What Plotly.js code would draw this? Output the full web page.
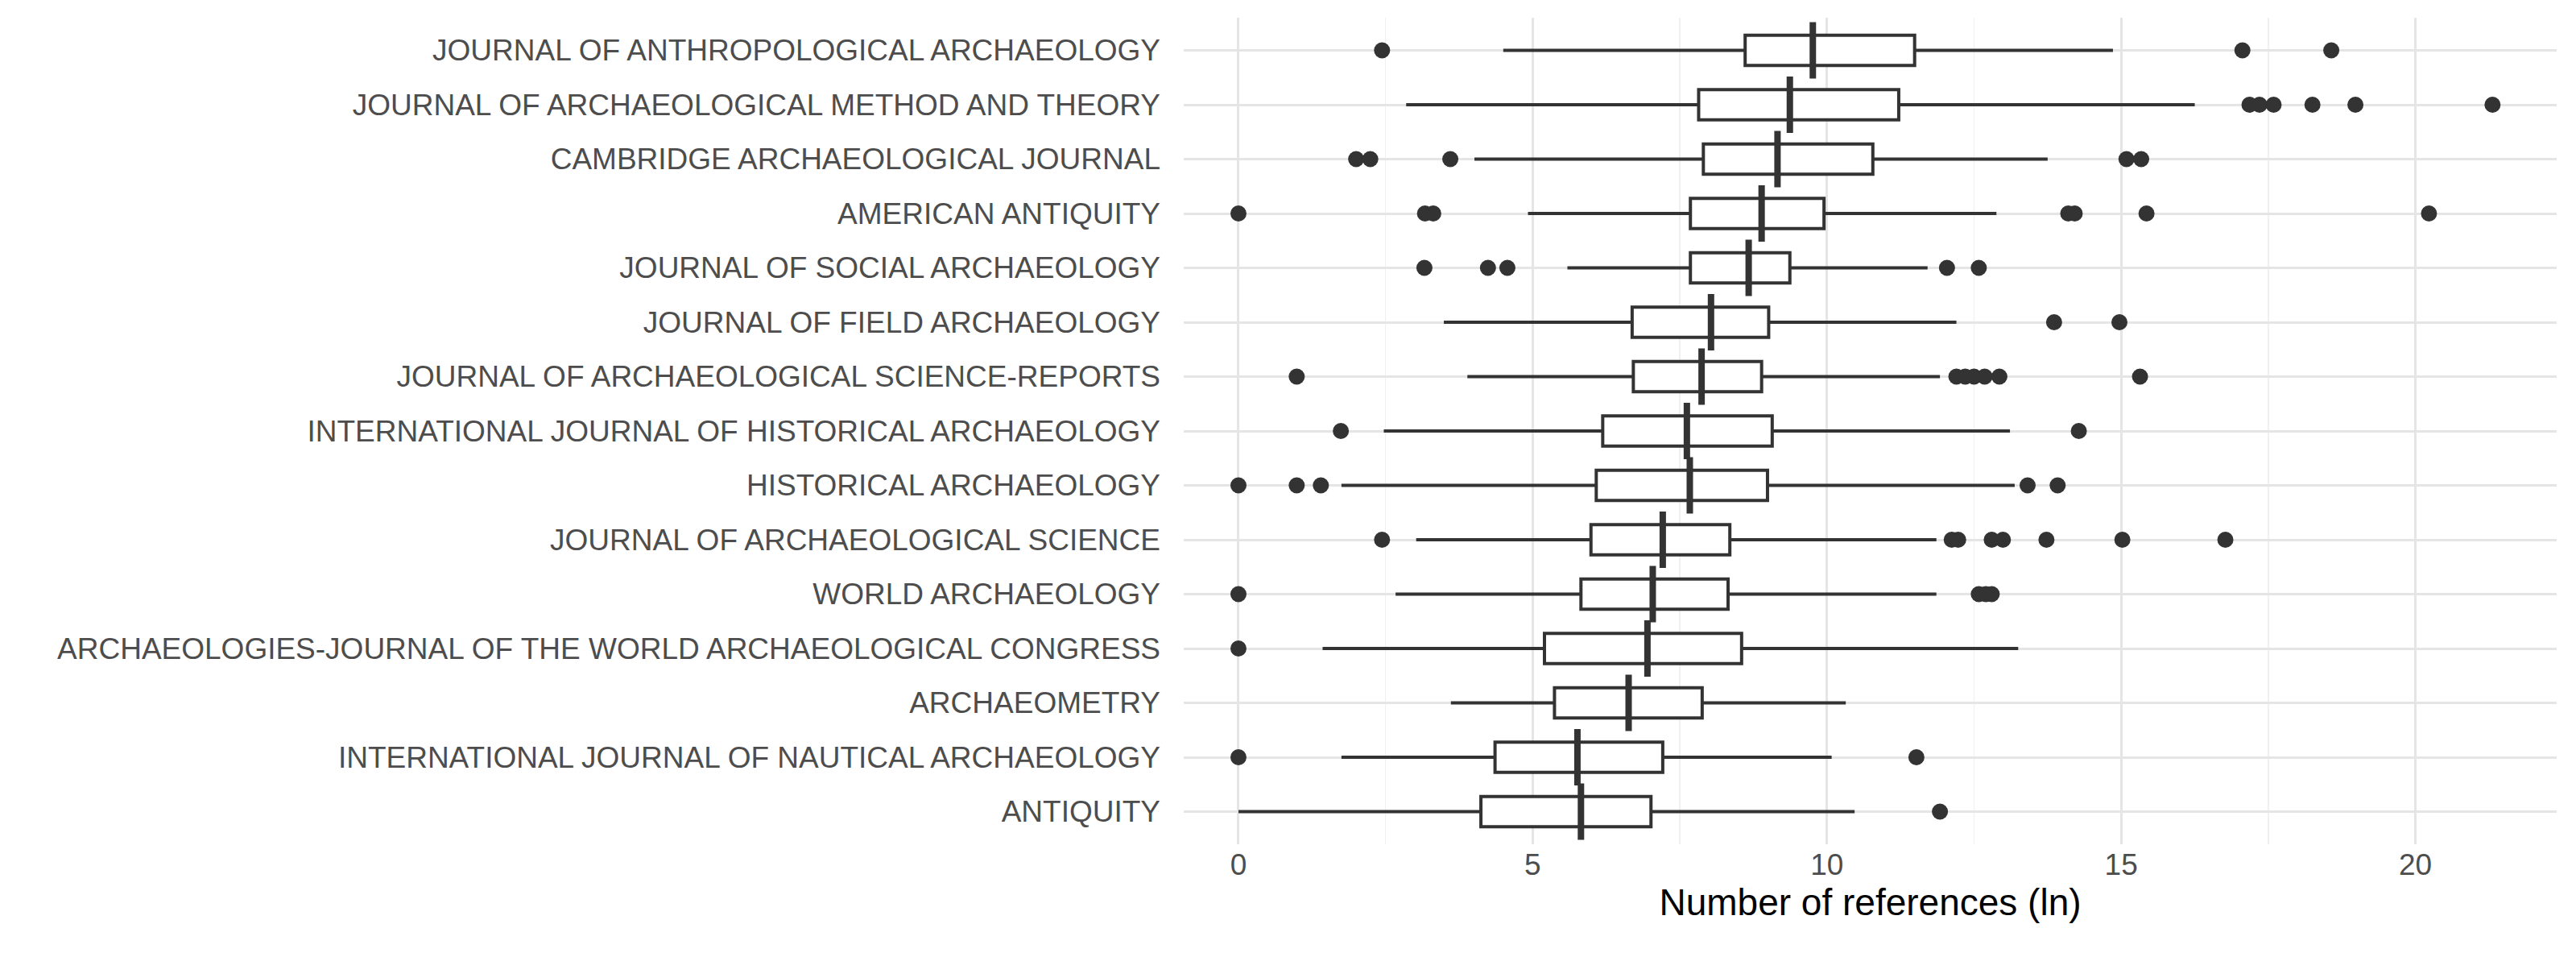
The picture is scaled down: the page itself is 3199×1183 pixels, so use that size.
<!DOCTYPE html>
<html>
<head>
<meta charset="utf-8">
<script src="https://cdn.plot.ly/plotly-3.0.1.min.js"></script>
<style>html,body{margin:0;padding:0;background:#fff}#chart{width:3199px;height:1183px}</style>
</head>
<body>
<div id="chart"></div>
<script>
// top to bottom
const journals = [
  'JOURNAL OF ANTHROPOLOGICAL ARCHAEOLOGY',
  'JOURNAL OF ARCHAEOLOGICAL METHOD AND THEORY',
  'CAMBRIDGE ARCHAEOLOGICAL JOURNAL',
  'AMERICAN ANTIQUITY',
  'JOURNAL OF SOCIAL ARCHAEOLOGY',
  'JOURNAL OF FIELD ARCHAEOLOGY',
  'JOURNAL OF ARCHAEOLOGICAL SCIENCE-REPORTS',
  'INTERNATIONAL JOURNAL OF HISTORICAL ARCHAEOLOGY',
  'HISTORICAL ARCHAEOLOGY',
  'JOURNAL OF ARCHAEOLOGICAL SCIENCE',
  'WORLD ARCHAEOLOGY',
  'ARCHAEOLOGIES-JOURNAL OF THE WORLD ARCHAEOLOGICAL CONGRESS',
  'ARCHAEOMETRY',
  'INTERNATIONAL JOURNAL OF NAUTICAL ARCHAEOLOGY',
  'ANTIQUITY'
];
const lowerWhisker = [4.5, 2.85, 4.01, 4.92, 5.59, 3.49, 3.89, 2.47, 1.75, 3.02, 2.67, 1.43, 3.61, 1.75, 0];
const q1 =           [8.61, 7.82, 7.9, 7.68, 7.68, 6.69, 6.71, 6.19, 6.08, 5.99, 5.82, 5.2, 5.37, 4.36, 4.12];
const median =       [9.76, 9.37, 9.16, 8.89, 8.67, 8.03, 7.87, 7.62, 7.67, 7.21, 7.04, 6.95, 6.63, 5.76, 5.82];
const q3 =           [11.49, 11.22, 10.78, 9.95, 9.37, 9.01, 8.89, 9.07, 8.99, 8.35, 8.32, 8.55, 7.88, 7.21, 7.01];
const upperWhisker = [14.86, 16.25, 13.75, 12.88, 11.71, 12.2, 11.92, 13.11, 13.19, 11.86, 11.86, 13.25, 10.32, 10.08, 10.47];
const outliers = [
  [2.44, 17.06, 18.57],
  [17.18, 17.35, 17.59, 18.25, 18.98, 21.31],
  [2.0, 2.24, 3.6, 15.09, 15.34],
  [0, 3.17, 3.31, 14.1, 14.21, 15.43, 20.23],
  [3.16, 4.24, 4.57, 12.04, 12.58],
  [13.86, 14.97],
  [0.99, 12.2, 12.35, 12.5, 12.68, 12.93, 15.32],
  [1.74, 14.28],
  [0, 0.99, 1.4, 13.41, 13.92],
  [2.44, 12.12, 12.23, 12.8, 12.99, 13.73, 15.02, 16.77],
  [0, 12.58, 12.7, 12.8],
  [0],
  [],
  [0, 11.52],
  [11.92]
];
const xTicks = [0, 5, 10, 15, 20];

const box = {
  type: 'box', orientation: 'h',
  y: journals, q1: q1, median: median, q3: q3,
  lowerfence: lowerWhisker, upperfence: upperWhisker,
  boxpoints: false, whiskerwidth: 0,
  fillcolor: '#ffffff', line: {color: '#333333', width: 4},
  hoverinfo: 'skip', showlegend: false
};
// thicker median bar, as in the original
const med = {
  type: 'scatter', mode: 'markers', x: median, y: journals,
  marker: {symbol: 'line-ns', size: 50, line: {color: '#333333', width: 8}},
  showlegend: false, hoverinfo: 'skip'
};
const ox = [], oy = [];
outliers.forEach((arr, i) => arr.forEach(v => { ox.push(v); oy.push(journals[i]); }));
const pts = {
  type: 'scatter', mode: 'markers', x: ox, y: oy,
  marker: {color: '#333333', size: 20}, showlegend: false, hoverinfo: 'skip'
};

const layout = {
  width: 3199, height: 1183,
  margin: {l: 1470, r: 24, t: 22, b: 135},
  paper_bgcolor: '#fff', plot_bgcolor: '#fff',
  font: {family: 'Liberation Sans, Arial, sans-serif', color: '#4d4d4d', size: 37},
  boxgap: 0.21,
  xaxis: {
    range: [-0.93, 22.4], tickvals: xTicks, zeroline: false,
    showgrid: true, gridcolor: '#e5e5e5', gridwidth: 3, ticks: '',
    minor: {dtick: 2.5, showgrid: true, gridcolor: '#f0f0f0', gridwidth: 1.5},
    tick0: 0,
    tickfont: {size: 37, color: '#4d4d4d'},
    title: {text: 'Number of references (ln)', font: {size: 46, color: '#000'}, standoff: 10}
  },
  yaxis: {
    type: 'category', categoryorder: 'array', categoryarray: journals.slice().reverse(),
    range: [-0.6, 14.6],
    showgrid: true, gridcolor: '#e5e5e5', gridwidth: 3, ticks: '', ticklen: 0,
    ticklabelstandoff: 28,
    tickfont: {size: 37, color: '#4d4d4d'}, zeroline: false, automargin: false
  }
};
Plotly.newPlot('chart', [box, med, pts], layout, {displayModeBar: false, staticPlot: true});
</script>
</body>
</html>
